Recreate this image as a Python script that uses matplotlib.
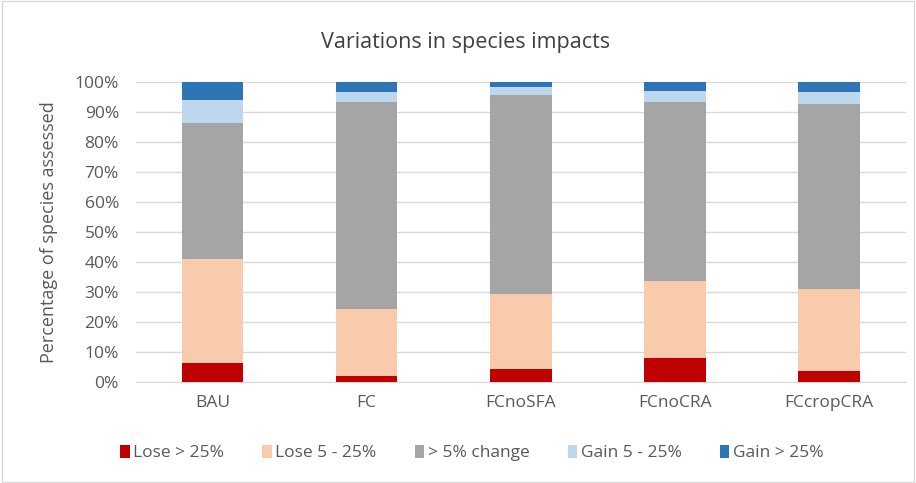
import matplotlib.pyplot as plt
import numpy as np
from matplotlib.patches import Rectangle

plt.rcParams['font.family'] = ['Open Sans', 'DejaVu Sans']

# data (percent of species assessed)
scenarios = ["BAU", "FC", "FCnoSFA", "FCnoCRA", "FCcropCRA"]
lose_big = [6.3, 1.9, 4.5, 8.1, 3.6]
lose_small = [34.8, 22.3, 25.0, 25.5, 27.5]
no_change = [45.4, 69.1, 66.1, 59.7, 61.7]
gain_small = [7.7, 3.4, 2.7, 3.7, 3.9]
gain_big = [5.8, 3.3, 1.7, 3.0, 3.3]

series = [lose_big, lose_small, no_change, gain_small, gain_big]
names = ["Lose > 25%", "Lose 5 - 25%", "> 5% change", "Gain 5 - 25%", "Gain > 25%"]
colors = ["#C00000", "#F8CBAD", "#A5A5A5", "#BDD7EE", "#2E75B6"]

fig = plt.figure(figsize=(9.16, 4.83), dpi=100)
ax = fig.add_axes([0.148, 0.209, 0.841, 0.621])

x = np.arange(len(scenarios))
bottom = np.zeros(len(scenarios))
for vals, name, col in zip(series, names, colors):
    ax.bar(x, vals, 0.4, bottom=bottom, color=col, label=name, zorder=3)
    bottom += np.array(vals)

ax.set_xlim(-0.5, len(scenarios) - 0.5)
ax.set_ylim(0, 100)
ax.set_yticks(np.arange(0, 101, 10))
ax.set_yticklabels([f"{v}%" for v in range(0, 101, 10)])
ax.set_xticks(x)
ax.set_xticklabels(scenarios)
ax.tick_params(axis='y', length=0, labelsize=12.5, colors="#595959", pad=12)
ax.tick_params(axis='x', length=0, labelsize=12.5, colors="#595959", pad=9)
ax.grid(axis='y', color="#D9D9D9", linewidth=1, zorder=0)
for s in ["top", "right", "left"]:
    ax.spines[s].set_visible(False)
ax.spines["bottom"].set_color("#D9D9D9")

ax.set_ylabel("Percentage of species assessed", fontsize=13, color="#595959", labelpad=12)
fig.text(0.508, 0.912, "Variations in species impacts", ha="center", va="center",
         fontsize=15.5, color="#404040")

handles, labels = ax.get_legend_handles_labels()
fig.legend(handles, labels, loc="center", bbox_to_anchor=(0.515, 0.062), ncol=5,
           frameon=False, fontsize=12.5, handlelength=0.55, handleheight=0.8,
           columnspacing=2.2, handletextpad=0.2, labelcolor="#595959")

fig.patches.append(Rectangle((0.002, 0.003), 0.996, 0.994, transform=fig.transFigure,
                             fill=False, edgecolor="#D9D9D9", linewidth=1))

fig.savefig("out.png", dpi=100)
